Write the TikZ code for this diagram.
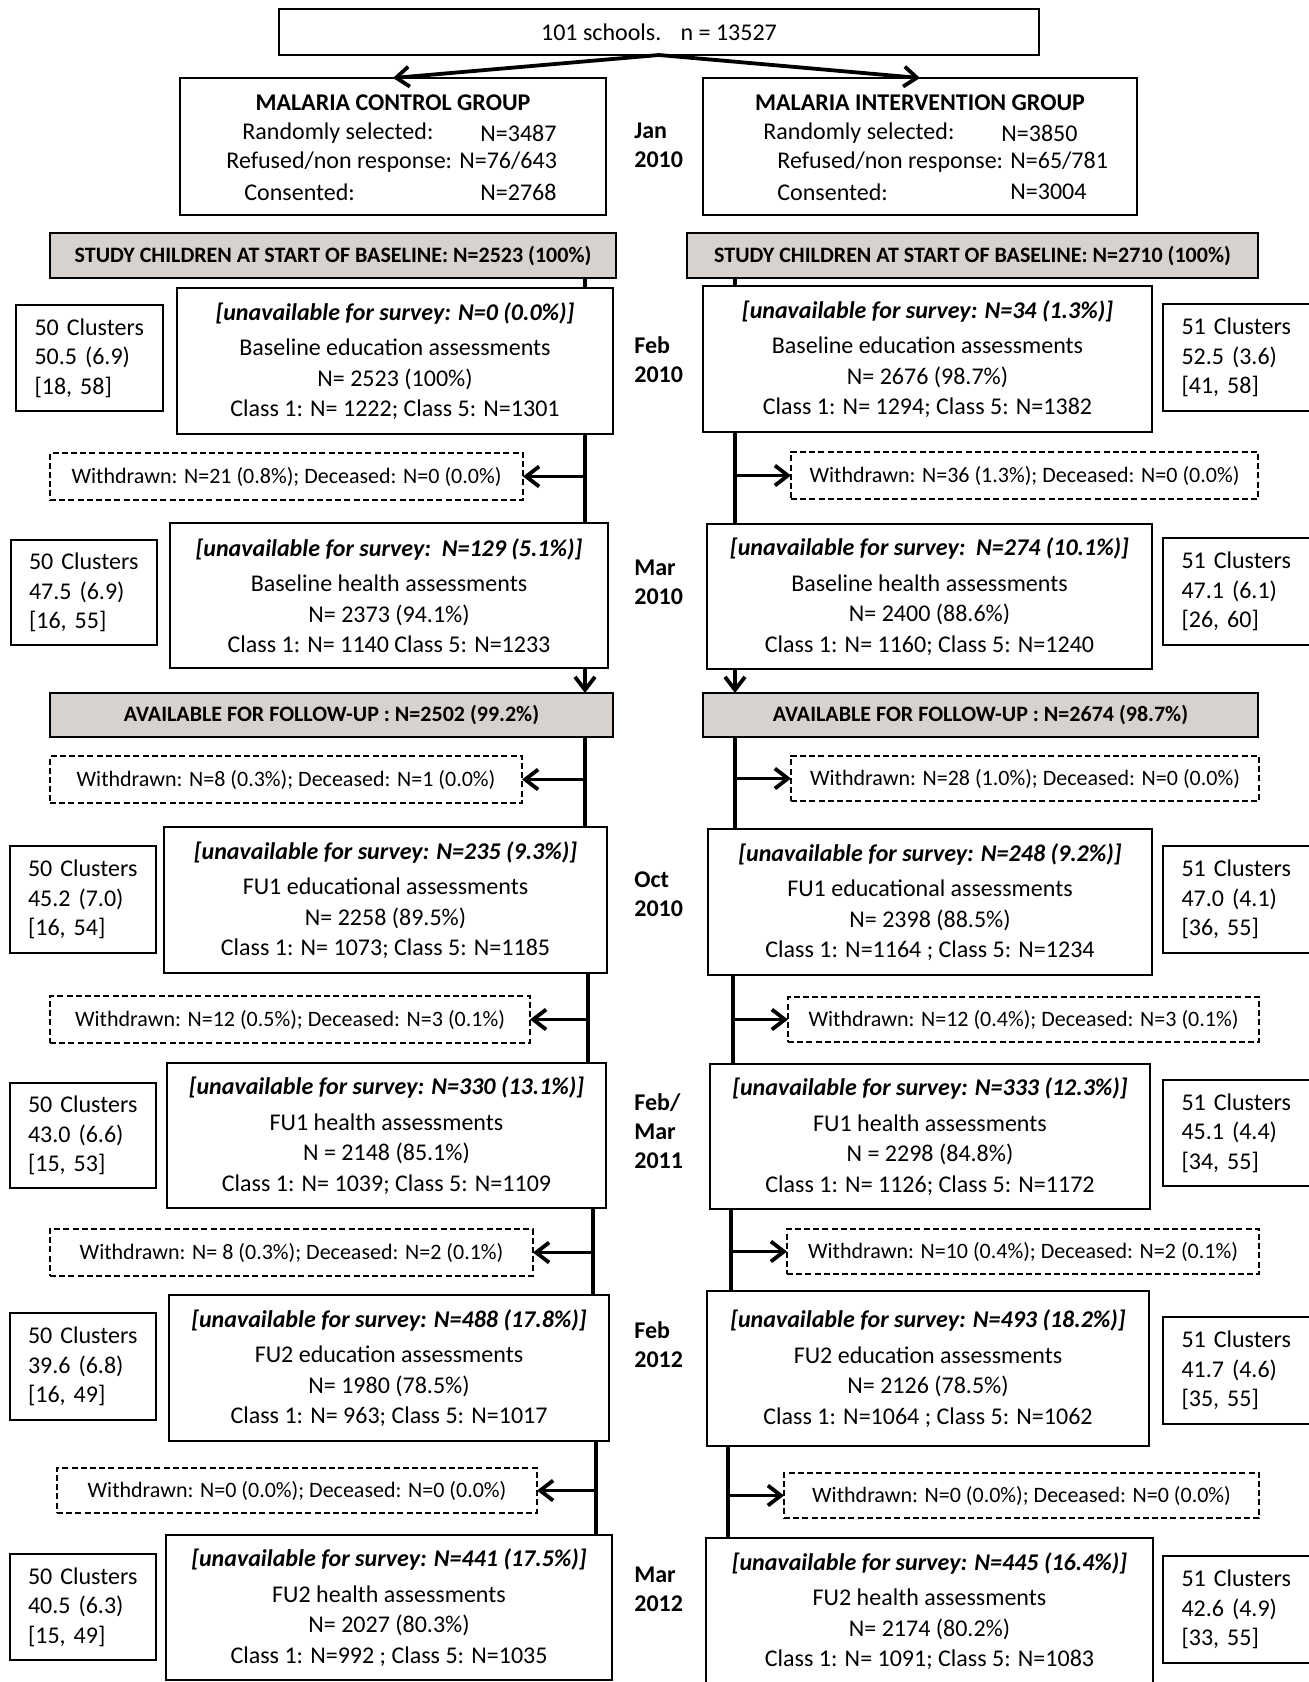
\documentclass[tikz,border=0pt]{standalone}
\usepackage{fontspec}
\setmainfont{Carlito}
\usetikzlibrary{arrows.meta}
\definecolor{greyfill}{RGB}{216,210,207}
\begin{document}
\begin{tikzpicture}[x=0.5pt,y=-0.5pt,
  bb/.style n args={4}{at={({(#1+#2)/2},{(#3+#4)/2})}, minimum width={(#2-#1)*0.5pt}, minimum height={(#4-#3)*0.5pt}},
  base/.style={inner sep=0pt, outer sep=0pt},
  mainbox/.style={base, draw, line width=1.3pt, align=center, font=\fontsize{12}{15.25}\selectfont},
  topbox/.style={base, draw, line width=1.3pt, align=center, font=\fontsize{12}{14}\selectfont},
  greybox/.style={base, draw, fill=greyfill, line width=1.3pt, font=\bfseries\fontsize{11}{13}\selectfont},
  wbox/.style={base, draw, dash pattern=on 3pt off 1.6pt, line width=0.7pt, font=\fontsize{11}{13}\selectfont},
  clbox/.style={base, draw, line width=1pt, align=left, text width=55pt, inner xsep=9pt, font=\fontsize{12}{14.75}\selectfont},
  datelbl/.style={inner sep=0pt, anchor=west, align=left, font=\bfseries\fontsize{12}{14.5}\selectfont},
  gl/.style={inner sep=0pt, anchor=west, font=\fontsize{12}{14}\selectfont},
  ghead/.style={inner sep=0pt, font=\bfseries\fontsize{12}{14}\selectfont},
  conn/.style={line width=1.9pt},
  arr/.style={conn, -{Straight Barb[length=6.5pt,width=10pt]}}
]
\useasboundingbox (0,0) rectangle (1309,1682);

% top
\node[topbox, bb={279}{1039}{9}{55}] (top) {101 schools.\hspace{9.6pt}n = 13527};
\node[mainbox, bb={180}{606}{78}{215}] (ctrl) {};
\node[mainbox, bb={703}{1137}{78}{215}] (intv) {};
\node[ghead] (ctrlh) at (393,103) {MALARIA CONTROL GROUP};
\node[gl] (c1a) at (242,133) {Randomly selected:};
\node[gl] (c1b) at (480,133) {N=3487};
\node[gl] (c2) at (226,162) {Refused/non response: N=76/643};
\node[gl] (c3a) at (244,192) {Consented:};
\node[gl] (c3b) at (480,192) {N=2768};
\node[ghead] (intvh) at (920,103) {MALARIA INTERVENTION GROUP};
\node[gl] (i1a) at (763,133) {Randomly selected:};
\node[gl] (i1b) at (1001,133) {N=3850};
\node[gl] (i2) at (777,162) {Refused/non response: N=65/781};
\node[gl] (i3a) at (777,192) {Consented:};
\node[gl] (i3b) at (1010,192) {N=3004};
\draw[arr] (top.south) -- (ctrl.north);
\draw[arr] (top.south) -- (intv.north);

% dates
\node[datelbl] (d1) at (634,145) {Jan\\2010};
\node[datelbl] (d2) at (634,360) {Feb\\2010};
\node[datelbl] (d3) at (634,582) {Mar\\2010};
\node[datelbl] (d4) at (634,894) {Oct\\2010};
\node[datelbl] (d5) at (634,1131) {Feb/\\Mar\\2011};
\node[datelbl] (d6) at (634,1345) {Feb\\2012};
\node[datelbl] (d7) at (634,1589) {Mar\\2012};

% grey boxes
\node[greybox, bb={50}{616}{233}{278}] (g1L) {STUDY CHILDREN AT START OF BASELINE: N=2523 (100\%)};
\node[greybox, bb={687}{1258}{233}{278}] (g1R) {STUDY CHILDREN AT START OF BASELINE: N=2710 (100\%)};
\node[greybox, bb={50}{613}{693}{737}] (g2L) {AVAILABLE FOR FOLLOW-UP : N=2502 (99.2\%)};
\node[greybox, bb={703}{1258}{693}{737}] (g2R) {AVAILABLE FOR FOLLOW-UP : N=2674 (98.7\%)};

% left main boxes
\node[mainbox, bb={177}{613}{288}{434}] (beL) {\textbf{\textit{[unavailable for survey: N=0 (0.0\%)]}}\\[2.5pt]Baseline education assessments\\N= 2523 (100\%)\\Class 1: N= 1222; Class 5: N=1301};
\node[mainbox, bb={170}{608}{523}{668}] (bhL) {\textbf{\textit{[unavailable for survey:\ \ N=129 (5.1\%)]}}\\[2.5pt]Baseline health assessments\\N= 2373 (94.1\%)\\Class 1: N= 1140 Class 5: N=1233};
\node[mainbox, bb={164}{607}{827}{973}] (fu1eL) {\textbf{\textit{[unavailable for survey: N=235 (9.3\%)]}}\\[2.5pt]FU1 educational assessments\\N= 2258 (89.5\%)\\Class 1: N= 1073; Class 5: N=1185};
\node[mainbox, bb={167}{606}{1063}{1208}] (fu1hL) {\textbf{\textit{[unavailable for survey: N=330 (13.1\%)]}}\\[2.5pt]FU1 health assessments\\N = 2148 (85.1\%)\\Class 1: N= 1039; Class 5: N=1109};
\node[mainbox, bb={169}{609}{1295}{1441}] (fu2eL) {\textbf{\textit{[unavailable for survey: N=488 (17.8\%)]}}\\[2.5pt]FU2 education assessments\\N= 1980 (78.5\%)\\Class 1: N= 963; Class 5: N=1017};
\node[mainbox, bb={166}{612}{1535}{1680}] (fu2hL) {\textbf{\textit{[unavailable for survey: N=441 (17.5\%)]}}\\[2.5pt]FU2 health assessments\\N= 2027 (80.3\%)\\Class 1: N=992 ; Class 5: N=1035};

% right main boxes
\node[mainbox, bb={703}{1152}{286}{432}] (beR) {\textbf{\textit{[unavailable for survey: N=34 (1.3\%)]}}\\[2.5pt]Baseline education assessments\\N= 2676 (98.7\%)\\Class 1: N= 1294; Class 5: N=1382};
\node[mainbox, bb={707}{1152}{524}{669}] (bhR) {\textbf{\textit{[unavailable for survey:\ \ N=274 (10.1\%)]}}\\[2.5pt]Baseline health assessments\\N= 2400 (88.6\%)\\Class 1: N= 1160; Class 5: N=1240};
\node[mainbox, bb={708}{1152}{829}{975}] (fu1eR) {\textbf{\textit{[unavailable for survey: N=248 (9.2\%)]}}\\[2.5pt]FU1 educational assessments\\N= 2398 (88.5\%)\\Class 1: N=1164 ; Class 5: N=1234};
\node[mainbox, bb={710}{1150}{1064}{1209}] (fu1hR) {\textbf{\textit{[unavailable for survey: N=333 (12.3\%)]}}\\[2.5pt]FU1 health assessments\\N = 2298 (84.8\%)\\Class 1: N= 1126; Class 5: N=1172};
\node[mainbox, bb={707}{1149}{1291}{1446}] (fu2eR) {\textbf{\textit{[unavailable for survey: N=493 (18.2\%)]}}\\[2.5pt]FU2 education assessments\\N= 2126 (78.5\%)\\Class 1: N=1064 ; Class 5: N=1062};
\node[mainbox, bb={706}{1153}{1538}{1684}] (fu2hR) {\textbf{\textit{[unavailable for survey: N=445 (16.4\%)]}}\\[2.5pt]FU2 health assessments\\N= 2174 (80.2\%)\\Class 1: N= 1091; Class 5: N=1083};

% cluster boxes
\node[clbox, bb={16}{163}{305}{411}] (clL1) {50 Clusters\\50.5 (6.9)\\{[18, 58]}};
\node[clbox, bb={11}{157}{540}{645}] (clL2) {50 Clusters\\47.5 (6.9)\\{[16, 55]}};
\node[clbox, bb={10}{156}{846}{953}] (clL3) {50 Clusters\\45.2 (7.0)\\{[16, 54]}};
\node[clbox, bb={10}{156}{1083}{1188}] (clL4) {50 Clusters\\43.0 (6.6)\\{[15, 53]}};
\node[clbox, bb={10}{156}{1313}{1420}] (clL5) {50 Clusters\\39.6 (6.8)\\{[16, 49]}};
\node[clbox, bb={10}{156}{1554}{1660}] (clL6) {50 Clusters\\40.5 (6.3)\\{[15, 49]}};
\node[clbox, bb={1163}{1310}{304}{411}] (clR1) {51 Clusters\\52.5 (3.6)\\{[41, 58]}};
\node[clbox, bb={1163}{1310}{538}{645}] (clR2) {51 Clusters\\47.1 (6.1)\\{[26, 60]}};
\node[clbox, bb={1163}{1310}{846}{953}] (clR3) {51 Clusters\\47.0 (4.1)\\{[36, 55]}};
\node[clbox, bb={1163}{1310}{1080}{1186}] (clR4) {51 Clusters\\45.1 (4.4)\\{[34, 55]}};
\node[clbox, bb={1163}{1310}{1317}{1424}] (clR5) {51 Clusters\\41.7 (4.6)\\{[35, 55]}};
\node[clbox, bb={1163}{1310}{1556}{1663}] (clR6) {51 Clusters\\42.6 (4.9)\\{[33, 55]}};

% withdrawn boxes
\node[wbox, bb={50}{523}{453}{500}] (wd1L) {Withdrawn: N=21 (0.8\%); Deceased: N=0 (0.0\%)};
\node[wbox, bb={50}{522}{756}{803}] (wd2L) {Withdrawn: N=8 (0.3\%); Deceased: N=1 (0.0\%)};
\node[wbox, bb={50}{530}{996}{1043}] (wd3L) {Withdrawn: N=12 (0.5\%); Deceased: N=3 (0.1\%)};
\node[wbox, bb={50}{533}{1229}{1276}] (wd4L) {Withdrawn: N= 8 (0.3\%); Deceased: N=2 (0.1\%)};
\node[wbox, bb={57}{537}{1468}{1513}] (wd5L) {Withdrawn: N=0 (0.0\%); Deceased: N=0 (0.0\%)};
\node[wbox, bb={791}{1258}{452}{499}] (wd1R) {Withdrawn: N=36 (1.3\%); Deceased: N=0 (0.0\%)};
\node[wbox, bb={791}{1259}{756}{801}] (wd2R) {Withdrawn: N=28 (1.0\%); Deceased: N=0 (0.0\%)};
\node[wbox, bb={788}{1259}{997}{1042}] (wd3R) {Withdrawn: N=12 (0.4\%); Deceased: N=3 (0.1\%)};
\node[wbox, bb={787}{1259}{1229}{1274}] (wd4R) {Withdrawn: N=10 (0.4\%); Deceased: N=2 (0.1\%)};
\node[wbox, bb={784}{1259}{1473}{1518}] (wd5R) {Withdrawn: N=0 (0.0\%); Deceased: N=0 (0.0\%)};

% column x positions
\coordinate (L1) at (585,0);
\coordinate (L2) at (588,0);
\coordinate (L3) at (593,0);
\coordinate (L4) at (596,0);
\coordinate (R1) at (735,0);
\coordinate (R2) at (733,0);
\coordinate (R3) at (731,0);
\coordinate (R4) at (728,0);

% left connectors
\draw[conn] (g1L.south -| L1) -- (beL.north -| L1);
\draw[conn] (beL.south -| L1) -- (bhL.north -| L1);
\draw[arr] (wd1L.east -| L1) -- (wd1L.east);
\draw[arr] (bhL.south -| L1) -- (g2L.north -| L1);
\draw[conn] (g2L.south -| L1) -- (fu1eL.north -| L1);
\draw[arr] (wd2L.east -| L1) -- (wd2L.east);
\draw[conn] (fu1eL.south -| L2) -- (fu1hL.north -| L2);
\draw[arr] (wd3L.east -| L2) -- (wd3L.east);
\draw[conn] (fu1hL.south -| L3) -- (fu2eL.north -| L3);
\draw[arr] (wd4L.east -| L3) -- (wd4L.east);
\draw[conn] (fu2eL.south -| L4) -- (fu2hL.north -| L4);
\draw[arr] (wd5L.east -| L4) -- (wd5L.east);

% right connectors
\draw[conn] (g1R.south -| R1) -- (beR.north -| R1);
\draw[conn] (beR.south -| R1) -- (bhR.north -| R1);
\draw[arr] (wd1R.west -| R1) -- (wd1R.west);
\draw[arr] (bhR.south -| R1) -- (g2R.north -| R1);
\draw[conn] (g2R.south -| R1) -- (fu1eR.north -| R1);
\draw[arr] (wd2R.west -| R1) -- (wd2R.west);
\draw[conn] (fu1eR.south -| R2) -- (fu1hR.north -| R2);
\draw[arr] (wd3R.west -| R2) -- (wd3R.west);
\draw[conn] (fu1hR.south -| R3) -- (fu2eR.north -| R3);
\draw[arr] (wd4R.west -| R3) -- (wd4R.west);
\draw[conn] (fu2eR.south -| R4) -- (fu2hR.north -| R4);
\draw[arr] (wd5R.west -| R4) -- (wd5R.west);
\end{tikzpicture}
\end{document}
